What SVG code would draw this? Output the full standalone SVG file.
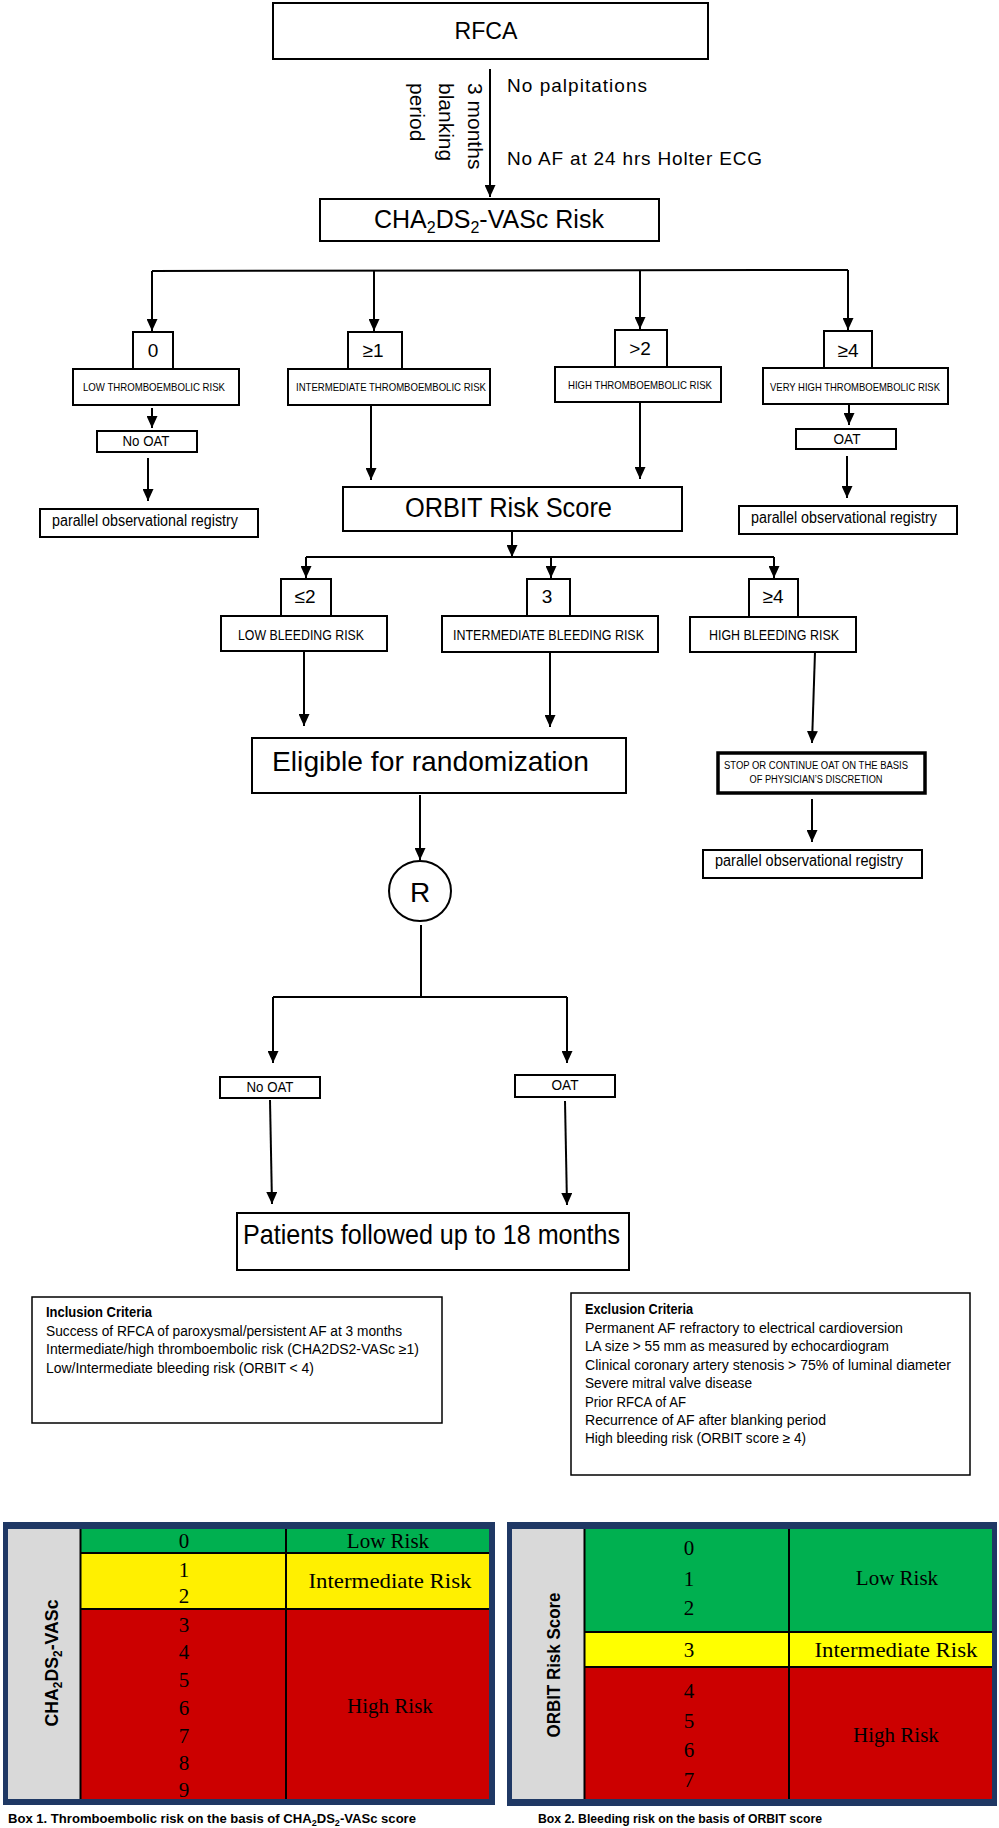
<svg xmlns="http://www.w3.org/2000/svg" width="999" height="1828" viewBox="0 0 999 1828">
<style>
.box{fill:#fff;stroke:#000;stroke-width:2}
.thick{fill:#fff;stroke:#000;stroke-width:3.5}
.t{font-family:"Liberation Sans",Arial,sans-serif;fill:#000}
.s{font-family:"Liberation Serif","Times New Roman",serif;fill:#000;font-size:21px}
.c{text-anchor:middle}
.ln{stroke:#000;stroke-width:2;fill:none}
.arr{stroke:#000;stroke-width:2;fill:none;marker-end:url(#ah)}
.sep{stroke:#000;stroke-width:2}
</style>
<defs>
<marker id="ah" markerWidth="12" markerHeight="11" refX="12" refY="5.5" orient="auto" markerUnits="userSpaceOnUse"><path d="M0,0 L12,5.5 L0,11 z" fill="#000"/></marker>
</defs>
<rect width="999" height="1828" fill="#fff"/>

<g id="connectors">
<line class="arr" x1="490" y1="69" x2="490" y2="197"/>
<polyline class="ln" points="152,271 848,270"/>
<line class="arr" x1="152" y1="271" x2="152" y2="331"/>
<line class="arr" x1="374" y1="271" x2="374" y2="331"/>
<line class="arr" x1="640" y1="271" x2="640" y2="329"/>
<line class="arr" x1="848" y1="270" x2="848" y2="330"/>
<line class="arr" x1="152" y1="408" x2="152" y2="428"/>
<line class="arr" x1="148" y1="458" x2="148" y2="501"/>
<line class="arr" x1="371" y1="405" x2="371" y2="480"/>
<line class="arr" x1="640" y1="402" x2="640" y2="479"/>
<line class="arr" x1="849" y1="404" x2="849" y2="425"/>
<line class="arr" x1="847" y1="456" x2="847" y2="498"/>
<line class="arr" x1="512" y1="531" x2="512" y2="557"/>
<polyline class="ln" points="306,557 774,557"/>
<line class="arr" x1="306" y1="557" x2="306" y2="578"/>
<line class="arr" x1="551" y1="557" x2="551" y2="578"/>
<line class="arr" x1="774" y1="557" x2="774" y2="578"/>
<line class="arr" x1="304" y1="651" x2="304" y2="726"/>
<line class="arr" x1="550" y1="652" x2="550" y2="727"/>
<line class="arr" x1="815" y1="652" x2="812" y2="743"/>
<line class="arr" x1="812" y1="799" x2="812" y2="842"/>
<line class="arr" x1="420" y1="795" x2="420" y2="860"/>
<line class="ln" x1="421" y1="925" x2="421" y2="997"/>
<polyline class="ln" points="273,997 567,997"/>
<line class="arr" x1="273" y1="997" x2="273" y2="1063"/>
<line class="arr" x1="567" y1="997" x2="567" y2="1063"/>
<line class="arr" x1="270" y1="1100" x2="272" y2="1204"/>
<line class="arr" x1="565" y1="1101" x2="567" y2="1205"/>
</g>

<g id="rfca">
<rect class="box" x="273" y="3" width="435" height="56"/>
<text class="t c" x="486" y="39" font-size="24" textLength="63" lengthAdjust="spacingAndGlyphs">RFCA</text>
</g>

<g id="blanking-label">
<text class="t" font-size="21" transform="translate(468,83) rotate(90)">3 months</text>
<text class="t" font-size="21" transform="translate(439,83) rotate(90)">blanking</text>
<text class="t" font-size="21" transform="translate(410,83) rotate(90)">period</text>
<text class="t" x="507" y="92" font-size="19" textLength="140">No palpitations</text>
<text class="t" x="507" y="165" font-size="19" textLength="255">No AF at 24 hrs Holter ECG</text>
</g>

<g id="cha-risk">
<rect class="box" x="320" y="199" width="339" height="42"/>
<text class="t" x="374" y="228" font-size="25">CHA<tspan font-size="16" dy="5">2</tspan><tspan dy="-5">DS</tspan><tspan font-size="16" dy="5">2</tspan><tspan dy="-5">-VASc Risk</tspan></text>
</g>

<g id="score0">
<rect class="box" x="133" y="332" width="40" height="37"/>
<text class="t c" x="153" y="357" font-size="19">0</text>
</g>
<g id="low-te">
<rect class="box" x="73" y="369" width="166" height="36"/>
<text class="t c" x="154" y="391" font-size="11" textLength="142" lengthAdjust="spacingAndGlyphs">LOW THROMBOEMBOLIC RISK</text>
</g>
<g id="nooat1">
<rect class="box" x="97" y="431" width="100" height="21"/>
<text class="t c" x="146" y="446" font-size="15" textLength="47" lengthAdjust="spacingAndGlyphs">No OAT</text>
</g>
<g id="registry1">
<rect class="box" x="40" y="509" width="218" height="28"/>
<text class="t" x="52" y="526" font-size="16" textLength="186" lengthAdjust="spacingAndGlyphs">parallel observational registry</text>
</g>

<g id="score1">
<rect class="box" x="348" y="332" width="54" height="37"/>
<text class="t c" x="373" y="357" font-size="19">≥1</text>
</g>
<g id="int-te">
<rect class="box" x="288" y="369" width="202" height="36"/>
<text class="t" x="296" y="391" font-size="11" textLength="190" lengthAdjust="spacingAndGlyphs">INTERMEDIATE THROMBOEMBOLIC RISK</text>
</g>

<g id="score2">
<rect class="box" x="615" y="330" width="52" height="37"/>
<text class="t c" x="640" y="355" font-size="19">&gt;2</text>
</g>
<g id="high-te">
<rect class="box" x="555" y="367" width="166" height="35"/>
<text class="t" x="568" y="389" font-size="11" textLength="144" lengthAdjust="spacingAndGlyphs">HIGH THROMBOEMBOLIC RISK</text>
</g>

<g id="score4">
<rect class="box" x="824" y="331" width="48" height="37"/>
<text class="t c" x="848" y="357" font-size="19">≥4</text>
</g>
<g id="vhigh-te">
<rect class="box" x="763" y="368" width="185" height="36"/>
<text class="t" x="770" y="391" font-size="11" textLength="170" lengthAdjust="spacingAndGlyphs">VERY HIGH THROMBOEMBOLIC RISK</text>
</g>
<g id="oat1">
<rect class="box" x="796" y="429" width="100" height="20"/>
<text class="t c" x="847" y="444" font-size="15" textLength="27" lengthAdjust="spacingAndGlyphs">OAT</text>
</g>
<g id="registry2">
<rect class="box" x="739" y="506" width="218" height="28"/>
<text class="t" x="751" y="523" font-size="16" textLength="186" lengthAdjust="spacingAndGlyphs">parallel observational registry</text>
</g>

<g id="orbit">
<rect class="box" x="343" y="487" width="339" height="44"/>
<text class="t" x="405" y="517" font-size="27" textLength="207" lengthAdjust="spacingAndGlyphs">ORBIT Risk Score</text>
</g>

<g id="b-le2">
<rect class="box" x="281" y="579" width="50" height="37"/>
<text class="t c" x="305" y="603" font-size="19">≤2</text>
</g>
<g id="low-bleed">
<rect class="box" x="221" y="616" width="166" height="35"/>
<text class="t" x="238" y="640" font-size="15" textLength="126" lengthAdjust="spacingAndGlyphs">LOW BLEEDING RISK</text>
</g>
<g id="b-3">
<rect class="box" x="527" y="579" width="43" height="37"/>
<text class="t c" x="547" y="603" font-size="19">3</text>
</g>
<g id="int-bleed">
<rect class="box" x="442" y="616" width="216" height="36"/>
<text class="t" x="453" y="640" font-size="15" textLength="191" lengthAdjust="spacingAndGlyphs">INTERMEDIATE BLEEDING RISK</text>
</g>
<g id="b-ge4">
<rect class="box" x="749" y="579" width="49" height="38"/>
<text class="t c" x="773" y="603" font-size="19">≥4</text>
</g>
<g id="high-bleed">
<rect class="box" x="690" y="617" width="166" height="35"/>
<text class="t" x="709" y="640" font-size="15" textLength="130" lengthAdjust="spacingAndGlyphs">HIGH BLEEDING RISK</text>
</g>

<g id="eligible">
<rect class="box" x="252" y="738" width="374" height="55"/>
<text class="t" x="272" y="771" font-size="28" textLength="317" lengthAdjust="spacingAndGlyphs">Eligible for randomization</text>
</g>

<g id="stop">
<rect class="thick" x="718" y="753" width="207" height="40"/>
<text class="t c" x="816" y="769" font-size="10" textLength="184" lengthAdjust="spacingAndGlyphs">STOP OR CONTINUE OAT ON THE BASIS</text>
<text class="t c" x="816" y="783" font-size="10" textLength="133" lengthAdjust="spacingAndGlyphs">OF PHYSICIAN’S DISCRETION</text>
</g>
<g id="registry3">
<rect class="box" x="703" y="850" width="219" height="28"/>
<text class="t" x="715" y="866" font-size="16" textLength="188" lengthAdjust="spacingAndGlyphs">parallel observational registry</text>
</g>

<g id="randomize">
<ellipse class="box" cx="420" cy="891" rx="31" ry="30"/>
<text class="t c" x="420" y="902" font-size="28">R</text>
</g>

<g id="nooat2">
<rect class="box" x="220" y="1077" width="100" height="21"/>
<text class="t c" x="270" y="1092" font-size="15" textLength="47" lengthAdjust="spacingAndGlyphs">No OAT</text>
</g>
<g id="oat2">
<rect class="box" x="515" y="1075" width="100" height="22"/>
<text class="t c" x="565" y="1090" font-size="15" textLength="27" lengthAdjust="spacingAndGlyphs">OAT</text>
</g>

<g id="followup">
<rect class="box" x="237" y="1213" width="392" height="57"/>
<text class="t" x="243" y="1244" font-size="28" textLength="377" lengthAdjust="spacingAndGlyphs">Patients followed up to 18 months</text>
</g>

<g id="inclusion">
<rect fill="#fff" stroke="#000" stroke-width="1.5" x="32" y="1297" width="410" height="126"/>
<text class="t" x="46" y="1317" font-size="14" font-weight="bold" textLength="106" lengthAdjust="spacingAndGlyphs">Inclusion Criteria</text>
<text class="t" x="46" y="1336" font-size="14" textLength="356" lengthAdjust="spacingAndGlyphs">Success of RFCA of paroxysmal/persistent AF at 3 months</text>
<text class="t" x="46" y="1354" font-size="14" textLength="373" lengthAdjust="spacingAndGlyphs">Intermediate/high thromboembolic risk (CHA2DS2-VASc ≥1)</text>
<text class="t" x="46" y="1373" font-size="14" textLength="268" lengthAdjust="spacingAndGlyphs">Low/Intermediate bleeding risk (ORBIT &lt; 4)</text>
</g>

<g id="exclusion">
<rect fill="#fff" stroke="#000" stroke-width="1.5" x="571" y="1293" width="399" height="182"/>
<text class="t" x="585" y="1314" font-size="14" font-weight="bold" textLength="108" lengthAdjust="spacingAndGlyphs">Exclusion Criteria</text>
<text class="t" x="585" y="1333" font-size="14" textLength="318" lengthAdjust="spacingAndGlyphs">Permanent AF refractory to electrical cardioversion</text>
<text class="t" x="585" y="1351" font-size="14" textLength="304" lengthAdjust="spacingAndGlyphs">LA size &gt; 55 mm as measured by echocardiogram</text>
<text class="t" x="585" y="1370" font-size="14" textLength="366" lengthAdjust="spacingAndGlyphs">Clinical coronary artery stenosis &gt; 75% of luminal diameter</text>
<text class="t" x="585" y="1388" font-size="14" textLength="167" lengthAdjust="spacingAndGlyphs">Severe mitral valve disease</text>
<text class="t" x="585" y="1407" font-size="14" textLength="101" lengthAdjust="spacingAndGlyphs">Prior RFCA of AF</text>
<text class="t" x="585" y="1425" font-size="14" textLength="241" lengthAdjust="spacingAndGlyphs">Recurrence of AF after blanking period</text>
<text class="t" x="585" y="1443" font-size="14" textLength="221" lengthAdjust="spacingAndGlyphs">High bleeding risk (ORBIT score ≥ 4)</text>
</g>

<g id="box1-table">
<rect x="3" y="1522" width="492" height="283" fill="#1f3864"/>
<rect x="8" y="1529" width="72" height="270" fill="#d9d9d9"/>
<rect x="81" y="1529" width="408" height="24" fill="#00b050"/>
<rect x="81" y="1553" width="408" height="56" fill="#fff000"/>
<rect x="81" y="1609" width="408" height="190" fill="#cc0000"/>
<line class="sep" x1="80.5" y1="1529" x2="80.5" y2="1799"/>
<line class="sep" x1="286" y1="1529" x2="286" y2="1799"/>
<line class="sep" x1="81" y1="1553" x2="489" y2="1553"/>
<line class="sep" x1="81" y1="1609" x2="489" y2="1609"/>
<text class="t" font-size="18" font-weight="bold" text-anchor="middle" textLength="127" lengthAdjust="spacingAndGlyphs" transform="translate(58,1663) rotate(-90)">CHA<tspan font-size="12" dy="4">2</tspan><tspan dy="-4">DS</tspan><tspan font-size="12" dy="4">2</tspan><tspan dy="-4">-VASc</tspan></text>
<text class="s c" x="184" y="1548">0</text>
<text class="s c" x="184" y="1577">1</text>
<text class="s c" x="184" y="1603">2</text>
<text class="s c" x="184" y="1632">3</text>
<text class="s c" x="184" y="1659">4</text>
<text class="s c" x="184" y="1687">5</text>
<text class="s c" x="184" y="1715">6</text>
<text class="s c" x="184" y="1743">7</text>
<text class="s c" x="184" y="1770">8</text>
<text class="s c" x="184" y="1797">9</text>
<text class="s c" x="388" y="1548">Low Risk</text>
<text class="s c" x="390" y="1588" textLength="163" lengthAdjust="spacingAndGlyphs">Intermediate Risk</text>
<text class="s c" x="390" y="1713">High Risk</text>
</g>

<g id="box2-table">
<rect x="507" y="1522" width="490" height="284" fill="#1f3864"/>
<rect x="512" y="1529" width="72" height="270" fill="#d9d9d9"/>
<rect x="585" y="1529" width="407" height="103" fill="#00b050"/>
<rect x="585" y="1632" width="407" height="35" fill="#ffff00"/>
<rect x="585" y="1667" width="407" height="132" fill="#cc0000"/>
<line class="sep" x1="584.5" y1="1529" x2="584.5" y2="1799"/>
<line class="sep" x1="789" y1="1529" x2="789" y2="1799"/>
<line class="sep" x1="585" y1="1632" x2="992" y2="1632"/>
<line class="sep" x1="585" y1="1667" x2="992" y2="1667"/>
<text class="t" font-size="18" font-weight="bold" text-anchor="middle" textLength="145" lengthAdjust="spacingAndGlyphs" transform="translate(560,1665) rotate(-90)">ORBIT Risk Score</text>
<text class="s c" x="689" y="1555">0</text>
<text class="s c" x="689" y="1586">1</text>
<text class="s c" x="689" y="1615">2</text>
<text class="s c" x="689" y="1657">3</text>
<text class="s c" x="689" y="1698">4</text>
<text class="s c" x="689" y="1728">5</text>
<text class="s c" x="689" y="1757">6</text>
<text class="s c" x="689" y="1787">7</text>
<text class="s c" x="897" y="1585">Low Risk</text>
<text class="s c" x="896" y="1657" textLength="163" lengthAdjust="spacingAndGlyphs">Intermediate Risk</text>
<text class="s c" x="896" y="1742">High Risk</text>
</g>

<g id="captions">
<text class="t" x="8" y="1823" font-size="13" font-weight="bold" textLength="408" lengthAdjust="spacingAndGlyphs">Box 1. Thromboembolic risk on the basis of CHA<tspan font-size="9" dy="3">2</tspan><tspan dy="-3">DS</tspan><tspan font-size="9" dy="3">2</tspan><tspan dy="-3">-VASc score</tspan></text>
<text class="t" x="538" y="1823" font-size="13" font-weight="bold" textLength="284" lengthAdjust="spacingAndGlyphs">Box 2. Bleeding risk on the basis of ORBIT score</text>
</g>
</svg>
